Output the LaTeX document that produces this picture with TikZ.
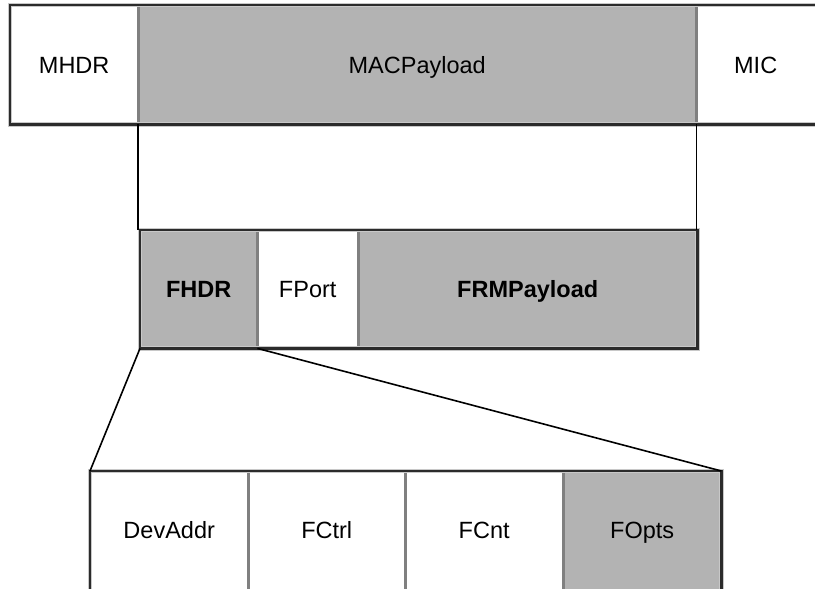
\documentclass[tikz,border=0pt]{standalone}
\usepackage{fontspec}
\setmainfont{Liberation Sans}
\definecolor{cellgray}{HTML}{B3B3B3}
\definecolor{divgray}{HTML}{808080}
\definecolor{framedark}{HTML}{2B2B2B}
\definecolor{halo}{HTML}{C8C8C8}
\begin{document}
\begin{tikzpicture}[x=1pt,y=-1pt,
  cell/.style={draw=none, inner sep=0pt, anchor=north west,
    text height=17pt, text depth=0pt,
    font=\fontsize{23.5}{28}\selectfont},
  shaded/.style={cell, fill=cellgray},
  plain/.style={cell, fill=white},
  divider/.style={draw=divgray, line width=2.2pt},
  frame/.style={draw=framedark, line width=2.6pt, line cap=rect},
  haloline/.style={draw=halo, line width=4.2pt, line cap=rect},
  link/.style={draw=black, line width=1.6pt}]
\useasboundingbox (0,0) rectangle (815,589);

% MAC frame
\node[plain,  minimum width=128pt, minimum height=119pt] (mhdr) at (10,5) {MHDR};
\node[shaded, minimum width=558pt, minimum height=119pt] (mac)  at (138,5) {MACPayload};
\node[plain,  minimum width=119pt, minimum height=119pt] (mic)  at (696,5) {MIC};

% MACPayload breakdown
\node[shaded, minimum width=117pt, minimum height=118pt] (fhdr)  at (140,230) {\bfseries FHDR};
\node[plain,  minimum width=101pt, minimum height=118pt] (fport) at (257,230) {FPort};
\node[shaded, minimum width=339pt, minimum height=118pt] (frm)   at (358,230) {\bfseries FRMPayload};

% FHDR breakdown
\node[plain,  minimum width=158pt, minimum height=118pt] (dev)   at (90,471)  {DevAddr};
\node[plain,  minimum width=157pt, minimum height=118pt] (fctrl) at (248,471) {FCtrl};
\node[plain,  minimum width=158pt, minimum height=118pt] (fcnt)  at (405,471) {FCnt};
\node[shaded, minimum width=158pt, minimum height=118pt] (fopts) at (563,471) {FOpts};

% cell separators
\draw[divider] (mhdr.north east) -- (mhdr.south east);
\draw[divider] (mac.north east) -- (mac.south east);
\draw[divider] (fhdr.north east) -- (fhdr.south east);
\draw[divider] (fport.north east) -- (fport.south east);
\draw[divider] (dev.north east) -- (dev.south east);
\draw[divider] (fctrl.north east) -- (fctrl.south east);
\draw[divider] (fcnt.north east) -- (fcnt.south east);

% outer frames (the MAC frame and the FHDR fields run past the page edge)
\draw[haloline] ([xshift=10pt]mic.north east) -- (mhdr.north west) -- (mhdr.south west) -- ([xshift=10pt]mic.south east);
\draw[frame] ([xshift=10pt]mic.north east) -- (mhdr.north west) -- (mhdr.south west) -- ([xshift=10pt]mic.south east);
\draw[haloline] (fhdr.north west) rectangle (frm.south east);
\draw[frame] (fhdr.north west) rectangle (frm.south east);
\draw[haloline] ([yshift=-10pt]dev.south west) -- (dev.north west) -- (fopts.north east) -- ([yshift=-10pt]fopts.south east);
\draw[frame] ([yshift=-10pt]dev.south west) -- (dev.north west) -- (fopts.north east) -- ([yshift=-10pt]fopts.south east);

% zoom connectors
\draw[link] (mac.south west) -- (mac.south west |- fhdr.north);
\draw[link] (mac.south east) -- (mac.south east |- frm.north);
\draw[link] (fhdr.south west) -- (dev.north west);
\draw[link] (fhdr.south east) -- (fopts.north east);
\end{tikzpicture}
\end{document}
